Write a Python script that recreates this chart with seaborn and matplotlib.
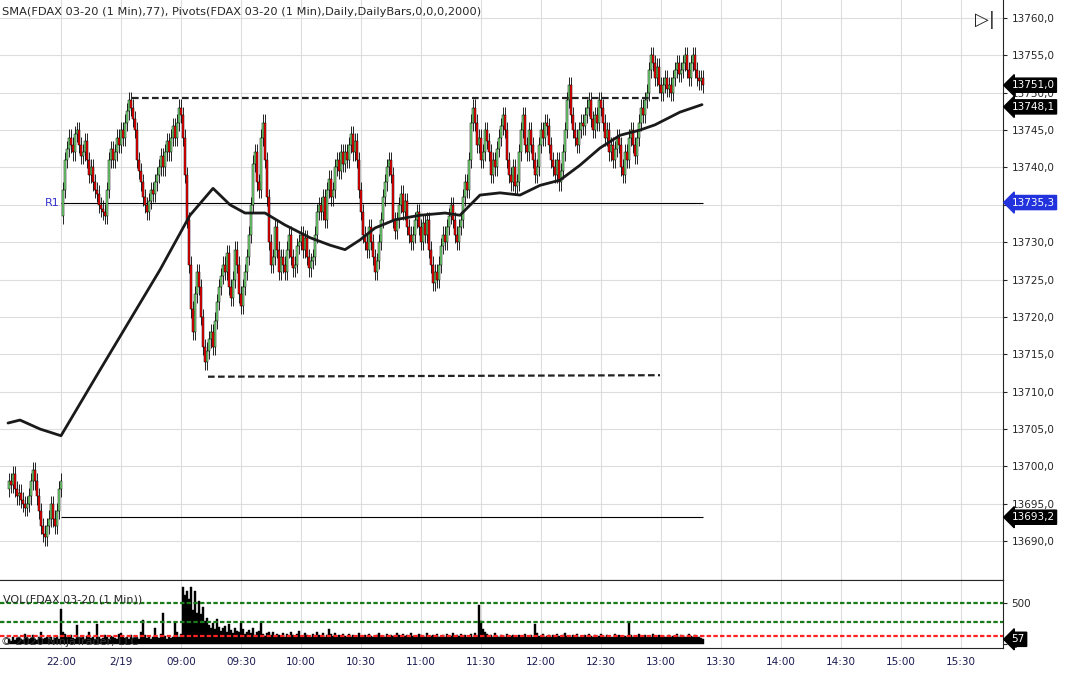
import matplotlib
matplotlib.use("Agg")
import matplotlib.pyplot as plt
import seaborn as sns
import numpy as np
import pandas as pd

# ---------------- data ----------------
pre_closes = [13698,13697.5,13699,13697,13696,13696.5,13695.5,13695,13694.5,13695,13696,13698,13699.5,13698,
              13696,13694,13692,13691,13690.5,13692,13693,13695,13693,13692,13694,13697,13698]
day_closes = [
 13737,13741,13742.5,13744,13743,13742,13744.5,13745,13743,13741.5,
 13742,13743.5,13741,13739,13740,13738,13737,13736.5,13735,13734.5,
 13734,13733.5,13737,13741,13742.5,13741,13742,13744,13743,13745,
 13744,13746,13747.5,13749,13748,13746.5,13745,13741,13739.5,13738,
 13736,13735,13734,13735.5,13737,13736.5,13738,13739,13740,13741.5,
 13740,13742,13743.5,13742,13744,13745.5,13744,13746,13748,13747,
 13744,13739,13733,13727,13721,13718,13723,13726,13724,13720,
 13716,13714,13715.5,13717,13718,13716,13719.5,13722,13724,13725.5,
 13727,13726,13728.5,13724,13722.5,13725,13729,13727,13723,13721.5,
 13724,13726,13728,13731,13735,13740.5,13742,13738,13737,13744,
 13746,13741,13736,13730,13727,13728,13732,13729,13726,13728,
 13727,13726,13729,13731,13728,13726.5,13727,13729.5,13730,13731,
 13729,13730.5,13728,13726.5,13727.5,13728,13731,13734,13735,13734,
 13736,13733,13737,13738.5,13736,13737,13740,13741,13739.5,13742,
 13740.5,13742,13741,13743,13744.5,13742,13743.5,13741,13737,13734,
 13731,13730,13729,13732,13730,13728,13726,13727.5,13730,13733,
 13736,13738,13740,13741,13739,13733,13731.5,13733,13735,13736.5,
 13734,13735.5,13732,13731,13730,13731,13733,13734,13732,13730,13732.5,13731,13733,13729,13727,
 13724.5,13726,13725,13727,13729.5,13731,13730,13732,13733.5,13735,
 13733,13731,13730,13732,13733,
 13736,13738,13737,13741,13746,13748,13746,13743,13744,13741,
 13742,13745,13743.5,13742,13739,13741,13740,13742.5,13744,13745.5,
 13747,13745,13741,13739,13738,13740,13737.5,13738,13742,13745,
 13747,13743,13742,13745,13743,13741,13739,13740,13743,13745,
 13744,13746,13745.5,13743,13741,13740,13739,13741,13738,13739.5,
 13742,13745,13749,13751,13747,13745,13744,13743,13745,13746,
 13745.5,13747,13748,13749,13746.5,13745,13747,13746,13749,13748,
 13746,13744,13745,13742,13743,13741,13742.5,13744,13743,13740,
 13739,13742,13741,13744,13745,13743,13741.5,13744,13746,13748,
 13747,13749,13750,13753,13755,13754,13752,13753.5,13751,13750,
 13751,13752,13750.5,13751,13750,13752,13753,13754,13752.5,13753,
 13754,13755,13753,13752,13754,13755,13753,13752,13751.5,13752,13751]
session_open = 13733.5

sma_t = [-26.5,-20.5,-10.5,0,19.5,34.5,49.5,64.5,76,84.5,92,102,112,124.5,134.5,142,149.5,157,167,179.5,192,199.5,
         209.5,219.5,229.5,239.5,249.5,259.5,269.5,279.5,289.5,297,309.5,320.5]
sma_v = [13705.8,13706.2,13705.0,13704.1,13712.9,13719.6,13726.3,13733.6,13737.2,13735.0,13733.9,13733.9,13732.3,
         13730.6,13729.6,13729.0,13730.3,13731.9,13733.0,13733.6,13733.9,13733.6,13736.3,13736.6,13736.3,13737.6,
         13738.3,13740.3,13742.6,13744.3,13745.0,13745.7,13747.4,13748.4]

pre_volumes = [60,40,80,50,70,90,60,50,120,80,60,70,110,60,50,80,140,60,70,90,60,80,50,70,100,60,430]
day_volumes = [
 150,120,90,80,110,70,60,230,90,70, 80,60,100,150,70,80,60,240,90,60,
 70,110,80,60,100,90,70,60,120,130, 80,70,90,60,110,70,80,90,60,140,
 290,110,70,80,60,90,190,80,70,120, 380,100,60,90,70,80,260,140,90,120,
 690,600,640,550,700,420,650,380,520,360, 450,280,320,230,200,260,180,300,210,160,
 190,220,150,240,170,130,200,160,140,250, 180,120,150,170,130,190,110,140,160,270,
 120,100,130,150,110,140,90,120,110,100, 130,90,120,100,140,110,90,120,160,100,
 90,130,110,100,80,120,90,150,110,100, 130,90,110,180,120,100,130,90,110,80,
 120,100,90,120,80,110,100,90,130,100, 80,110,90,120,100,90,80,110,130,90,
 100,80,120,90,110,100,80,130,110,90, 120,100,110,90,130,100,80,90,120,110,
 100,80,130,90,100,110,80,120,90,100, 110,90,120,80,100,130,90,110,100,120,
 90,110,80,100,120,90,130,100, 480,280,180,150,120,100,110,90,130,100,
 80,110,100,90,120,80,100,110,90,80, 110,100,90,120,80,100,110,90,240,130,
 100,90,120,80,100,110,90,110,80,120, 100,90,110,130,100,90,80,110,100,120,
 90,80,100,110,90,120,100,80,110,90, 100,120,80,90,110,100,90,80,120,100,
 110,90,80,100,90,260,110,90,100,80, 120,100,90,110,80,100,90,120,100,80,
 110,90,100,80,90,110,80,100,90,120, 90,110,100,80,90,120,100,90,110,80,
 90,70,57]

x_tick_t = [0,30,60,90,120,150,180,210,240,270,300,330,360,390,420,450]
x_tick_labels = ["22:00","2/19","09:00","09:30","10:00","10:30","11:00","11:30","12:00","12:30",
                 "13:00","13:30","14:00","14:30","15:00","15:30"]
r1_level, s_level = 13735.3, 13693.2
high_level, low_level = 13749.3, 13712.0
last_close, sma_last, vol_last = 13751.0, 13748.1, 57

# ---------------- build OHLC ----------------
t_pre = np.arange(-26, 1)
t_day = np.arange(1, 1 + len(day_closes))
t_all = np.concatenate([t_pre, t_day])
closes = np.array(pre_closes + day_closes, dtype=float)
opens = np.empty_like(closes)
opens[0] = 13697
opens[1:] = closes[:-1]
opens[len(pre_closes)] = session_open
highs = np.maximum(opens, closes) + 1.1
lows = np.minimum(opens, closes) - 1.1
df = pd.DataFrame({"t": t_all, "open": opens, "close": closes, "high": highs, "low": lows})
vt = np.concatenate([t_pre, np.arange(1, 1 + len(day_volumes))])
vol = np.array(pre_volumes + day_volumes, dtype=float)

# ---------------- draw ----------------
sns.set_style("white")
plt.rcParams['font.family'] = ['DejaVu Sans']
fig = plt.figure(figsize=(10.66, 6.74), dpi=100)
W, H = 1066, 674
ax = fig.add_axes([0, 94 / H, 1003 / W, 580 / H])
axv = fig.add_axes([0, 26 / H, 1003 / W, 68 / H])

xmin, xmax = -30.5, 471
ax.set_xlim(xmin, xmax); axv.set_xlim(xmin, xmax)
ax.set_ylim(13684.8, 13762.4)
axv.set_ylim(-49, 780)

for a in (ax, axv):
    for v in x_tick_t:
        a.axvline(v, color="#dddddd", lw=0.8, zorder=0)
for p in np.arange(13690, 13761, 5):
    ax.axhline(p, color="#dddddd", lw=0.8, zorder=0)

up = df["close"] >= df["open"]
ax.vlines(df["t"], df["low"], df["high"], color="black", lw=0.6, zorder=2)
ax.bar(df["t"][up], (df["close"] - df["open"])[up].clip(lower=0.15), bottom=df["open"][up], width=0.85,
       color="#80e880", edgecolor="black", lw=0.35, zorder=3)
ax.bar(df["t"][~up], (df["open"] - df["close"])[~up], bottom=df["close"][~up], width=0.85,
       color="#ff0000", edgecolor="black", lw=0.35, zorder=3)

sns.lineplot(x=sma_t, y=sma_v, ax=ax, color="#1a1a1a", lw=2, zorder=4)

ax.hlines(high_level, 35.5, 299.5, color="#222222", lw=1.6, ls=(0, (3, 1.5)), zorder=5)
ax.plot([73.5, 299.5], [low_level, 13712.2], color="#222222", lw=1.6, ls=(0, (3, 1.5)), zorder=5)
ax.hlines(r1_level, 0, 321, color="black", lw=0.8, zorder=1)
ax.hlines(s_level, 0, 321, color="black", lw=0.8, zorder=1)
ax.text(-0.5, r1_level, "R1", color="#3333cc", fontsize=8, ha="right", va="center")

fig.text(2 / W, 1 - 12 / H, "SMA(FDAX 03-20 (1 Min),77), Pivots(FDAX 03-20 (1 Min),Daily,DailyBars,0,0,0,2000)",
         fontsize=8.2, va="center", ha="left")
fig.text(985 / W, 1 - 20 / H, "▷|", fontsize=13, ha="center", va="center")

ax.yaxis.tick_right()
yt = np.arange(13690, 13761, 5)
ax.set_yticks(yt)
ax.set_yticklabels([f"{v:.1f}".replace(".", ",") for v in yt], fontsize=7.5)
ax.tick_params(axis="y", length=3, pad=3)
ax.set_xticks([])
for s in ["top", "left"]:
    ax.spines[s].set_visible(False)
ax.spines["bottom"].set_color("black")

def tag(a, y, txt, fc):
    a.annotate(txt, xy=(1.0, y), xycoords=("axes fraction", "data"), xytext=(6, 0), textcoords="offset points",
               fontsize=7.5, color="white", va="center", ha="left",
               bbox=dict(boxstyle="larrow,pad=0.2", fc=fc, ec=fc), annotation_clip=False, zorder=10)

tag(ax, last_close, "13751,0", "black")
tag(ax, sma_last, "13748,1", "black")
tag(ax, r1_level, "13735,3", "#2233dd")
tag(ax, s_level, "13693,2", "black")

axv.bar(vt, vol, width=1.0, color="black", edgecolor="black", lw=0.3, zorder=2)
axv.axhline(500, color="#1a7a1a", lw=1.6, ls=(0, (2, 1)), zorder=3)
axv.axhline(268, color="#1a7a1a", lw=1.6, ls=(0, (2, 1)), zorder=3)
axv.axhline(98, color="#ff2222", lw=1.6, ls=(0, (2, 1)), zorder=3)
axv.text(xmin + 1.5, 540, "VOL(FDAX 03-20 (1 Min))", fontsize=8, va="center")
axv.text(xmin + 0.5, 20, "© 2020 NinjaTrader, LLC", fontsize=8, va="center", color="#333333")
axv.yaxis.tick_right()
axv.set_yticks([0, 500])
axv.set_yticklabels(["0", "500"], fontsize=7.5)
axv.tick_params(axis="y", length=3, pad=3)
axv.set_xticks(x_tick_t)
axv.set_xticklabels(x_tick_labels, fontsize=7.5, color="#1a1a50")
axv.tick_params(axis="x", length=3)
axv.spines["left"].set_visible(False)
tag(axv, vol_last, "57", "black")

fig.savefig("out.png", dpi=100)
